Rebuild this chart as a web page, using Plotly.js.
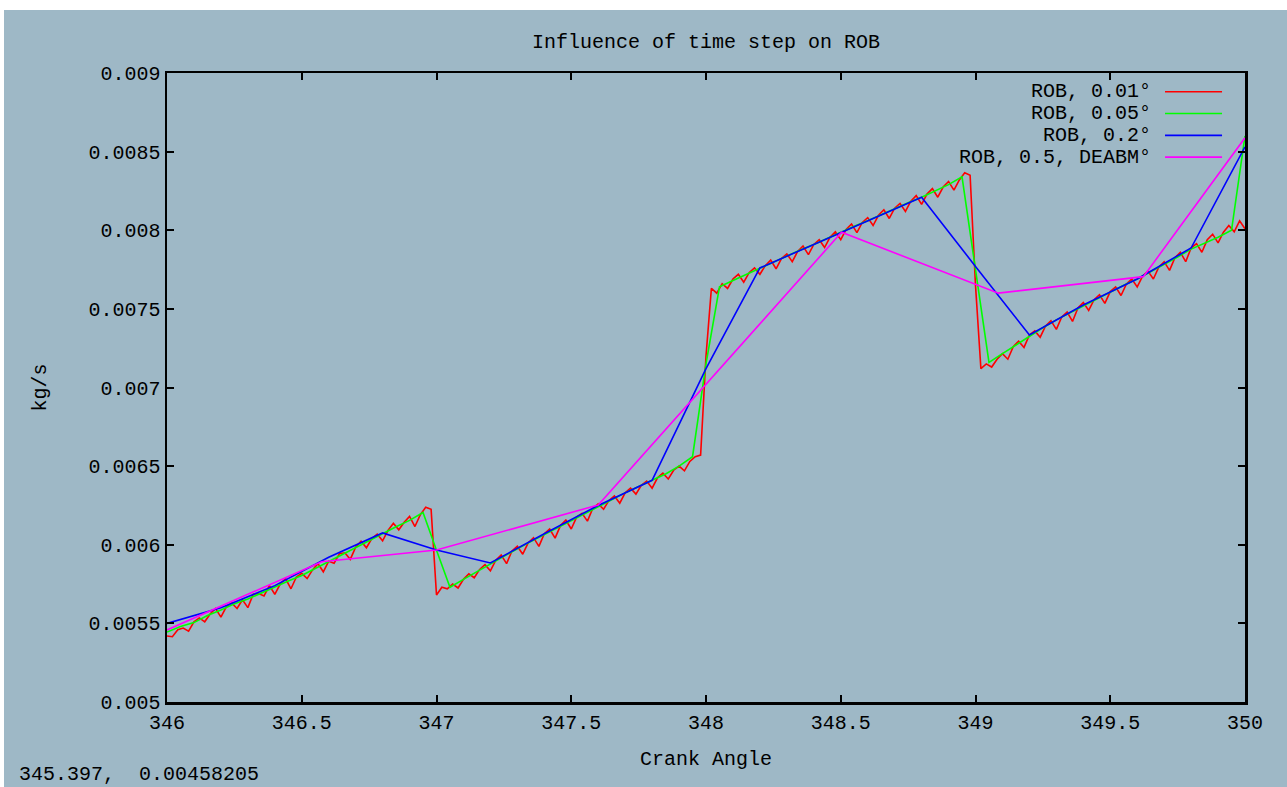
<!DOCTYPE html>
<html>
<head>
<meta charset="utf-8">
<script src="https://cdn.plot.ly/plotly-3.0.1.min.js"></script>
<style>
html, body { margin: 0; padding: 0; background: #ffffff; overflow: hidden; width: 1287px; height: 787px; }
#chart { position: absolute; left: 4px; top: 10px; width: 1283px; height: 777px; }
</style>
</head>
<body>
<div id="chart"></div>
<script>
// ---- Data ----
const chartTitle = 'Influence of time step on ROB';
const xTitle = 'Crank Angle';
const yTitle = 'kg/s';
const statusText = '345.397,\u00a0\u00a00.00458205';

const seriesNames = ['ROB, 0.01°', 'ROB, 0.05°', 'ROB, 0.2°', 'ROB, 0.5, DEABM°'];
const seriesColors = ['#ff0000', '#00ff00', '#0000ff', '#ff00ff'];

const xTickVals = [346, 346.5, 347, 347.5, 348, 348.5, 349, 349.5, 350];
const xTickText = ['346', '346.5', '347', '347.5', '348', '348.5', '349', '349.5', '350'];
const yTickVals = [0.005, 0.0055, 0.006, 0.0065, 0.007, 0.0075, 0.008, 0.0085, 0.009];
const yTickText = ['0.005', '0.0055', '0.006', '0.0065', '0.007', '0.0075', '0.008', '0.0085', '0.009'];

// ROB, 0.01 deg (read every 0.02 deg from 346 to 350)
const redStart = 346, redStep = 0.02;
const redY = [
  0.005420, 0.005415, 0.005460, 0.005470, 0.005450, 0.005510, 0.005535, 0.005510, 0.005560, 0.005595,
  0.005540, 0.005605, 0.005630, 0.005595, 0.005650, 0.005600, 0.005685, 0.005690, 0.005675, 0.005740,
  0.005685, 0.005750, 0.005785, 0.005720, 0.005795, 0.005818, 0.005785, 0.005840, 0.005880, 0.005828,
  0.005895, 0.005883, 0.005943, 0.005949, 0.005907, 0.005985, 0.006023, 0.005981, 0.006039, 0.006067,
  0.006025, 0.006091, 0.006137, 0.006095, 0.006143, 0.006180, 0.006116, 0.006192, 0.006238, 0.006225,
  0.005680, 0.005730, 0.005720, 0.005750, 0.005725, 0.005780, 0.005815, 0.005790, 0.005843, 0.005873,
  0.005834, 0.005902, 0.005935, 0.005880, 0.005960, 0.005990, 0.005940, 0.006012, 0.006045, 0.005990,
  0.006070, 0.006100, 0.006042, 0.006122, 0.006157, 0.006100, 0.006176, 0.006200, 0.006150, 0.006232,
  0.006260, 0.006226, 0.006282, 0.006310, 0.006264, 0.006330, 0.006360, 0.006322, 0.006378, 0.006405,
  0.006360, 0.006426, 0.006455, 0.006418, 0.006474, 0.006500, 0.006470, 0.006530, 0.006560, 0.006570,
  0.007200, 0.007630, 0.007600, 0.007660, 0.007630, 0.007690, 0.007720, 0.007670, 0.007730, 0.007760,
  0.007720, 0.007775, 0.007810, 0.007755, 0.007820, 0.007850, 0.007800, 0.007865, 0.007900, 0.007845,
  0.007910, 0.007940, 0.007890, 0.007955, 0.007990, 0.007940, 0.008005, 0.008040, 0.007985, 0.008050,
  0.008080, 0.008030, 0.008095, 0.008130, 0.008075, 0.008140, 0.008170, 0.008120, 0.008185, 0.008220,
  0.008165, 0.008230, 0.008265, 0.008210, 0.008275, 0.008310, 0.008255, 0.008320, 0.008365, 0.008350,
  0.007650, 0.007120, 0.007150, 0.007130, 0.007180, 0.007215, 0.007180, 0.007260, 0.007295, 0.007255,
  0.007334, 0.007360, 0.007320, 0.007391, 0.007425, 0.007370, 0.007449, 0.007480, 0.007420, 0.007506,
  0.007540, 0.007490, 0.007558, 0.007590, 0.007535, 0.007610, 0.007640, 0.007585, 0.007658, 0.007690,
  0.007640, 0.007708, 0.007740, 0.007690, 0.007765, 0.007800, 0.007745, 0.007825, 0.007860, 0.007800,
  0.007887, 0.007915, 0.007860, 0.007940, 0.007975, 0.007920, 0.007988, 0.008030, 0.007990, 0.008060,
  0.008010
];

// ROB, 0.05 deg
const greenStart = 346, greenStep = 0.05;
const greenY = [
  0.005445, 0.005480, 0.005505, 0.005550, 0.005585, 0.005625, 0.005655, 0.005695, 0.005730, 0.005770,
  0.005805, 0.005850, 0.005890, 0.005940, 0.005980, 0.006030, 0.006070, 0.006115, 0.006155, 0.006205,
  0.005965, 0.005730, 0.005780, 0.005830, 0.005880, 0.005930, 0.005975, 0.006020, 0.006065, 0.006110,
  0.006155, 0.006200, 0.006245, 0.006290, 0.006330, 0.006370, 0.006410, 0.006450, 0.006500, 0.006560,
  0.007150, 0.007640, 0.007680, 0.007720, 0.007760, 0.007800, 0.007835, 0.007875, 0.007910, 0.007950,
  0.007990, 0.008025, 0.008060, 0.008100, 0.008140, 0.008175, 0.008210, 0.008250, 0.008290, 0.008340,
  0.007750, 0.007160, 0.007215, 0.007270, 0.007330, 0.007380, 0.007430, 0.007475, 0.007520, 0.007565,
  0.007610, 0.007650, 0.007690, 0.007735, 0.007780, 0.007830, 0.007880, 0.007915, 0.007955, 0.008000,
  0.008600
];

// ROB, 0.2 deg
const blueX = [346.0, 346.2, 346.4, 346.6, 346.8, 347.0, 347.2, 347.4, 347.6, 347.8, 348.0,
               348.2, 348.4, 348.6, 348.8, 349.0, 349.2, 349.4, 349.6, 349.8, 350.0];
const blueY = [0.005500, 0.005600, 0.005740, 0.005920, 0.006075, 0.005967, 0.005884, 0.006070, 0.006250, 0.006410, 0.007120,
               0.007760, 0.007910, 0.008060, 0.008210, 0.007770, 0.007334, 0.007525, 0.007690, 0.007887, 0.008530];

// ROB, 0.5, DEABM
const magentaX = [346.0, 346.574, 347.0, 347.6, 348.503, 349.085, 349.623, 350.0];
const magentaY = [0.005458, 0.005892, 0.005967, 0.006253, 0.007987, 0.007600, 0.007705, 0.008588];

// ---- Build ----
const redX = redY.map((_, i) => +(redStart + i * redStep).toFixed(2));
const greenX = greenY.map((_, i) => +(greenStart + i * greenStep).toFixed(2));

const xs = [redX, greenX, blueX, magentaX];
const ys = [redY, greenY, blueY, magentaY];

const traces = xs.map((x, k) => ({
  x: x, y: ys[k], type: 'scatter', mode: 'lines', name: seriesNames[k],
  line: { color: seriesColors[k], width: 1.6 }, showlegend: false, hoverinfo: 'skip'
}));

const FONT = 'Liberation Mono, DejaVu Sans Mono, monospace';
const bg = '#9eb8c6';

// plot area in div pixels: left 163, right 1241, top 63, bottom 692 (div is 1283 x 777)
const legTextX = 0.9147, legLine0 = 0.9258, legLine1 = 0.9787;
const legRows = [0.9703, 0.9356, 0.9009, 0.8662];
const annotations = seriesNames.map((n, k) => ({
  xref: 'paper', yref: 'paper', x: legTextX, y: legRows[k], xanchor: 'right', yanchor: 'middle',
  text: n, showarrow: false, font: { family: FONT, size: 20, color: '#000' }
}));
annotations.push({
  xref: 'paper', yref: 'paper', x: -0.1382, y: -0.1351, xanchor: 'left', yanchor: 'bottom',
  text: statusText, showarrow: false, borderpad: 0, font: { family: FONT, size: 20, color: '#000' }
});
const shapes = seriesColors.map((c, k) => ({
  type: 'line', xref: 'paper', yref: 'paper', x0: legLine0, x1: legLine1, y0: legRows[k], y1: legRows[k],
  line: { color: c, width: 1.6 }
}));

const axisCommon = {
  showgrid: false, zeroline: false, showline: true, linecolor: '#000', linewidth: 2.5,
  mirror: 'ticks', ticks: 'inside', ticklen: 7, tickwidth: 2, tickcolor: '#000',
  tickfont: { family: FONT, size: 20, color: '#000' }, tickmode: 'array'
};

const layout = {
  width: 1283, height: 777,
  paper_bgcolor: bg, plot_bgcolor: bg,
  margin: { l: 163, r: 42, t: 63, b: 85 },
  font: { family: FONT, size: 20, color: '#000' },
  title: { text: chartTitle, x: 0.5, xref: 'paper', xanchor: 'center', y: 1 - 31 / 777, yref: 'container', yanchor: 'middle',
           font: { family: FONT, size: 20, color: '#000' } },
  xaxis: Object.assign({}, axisCommon, {
    range: [346, 350], tickvals: xTickVals, ticktext: xTickText,
    title: { text: xTitle, standoff: 18, font: { family: FONT, size: 20, color: '#000' } }
  }),
  yaxis: Object.assign({}, axisCommon, {
    range: [0.005, 0.009], tickvals: yTickVals, ticktext: yTickText,
    title: { text: yTitle, standoff: 37, font: { family: FONT, size: 20, color: '#000' } }
  }),
  annotations: annotations,
  shapes: shapes,
  showlegend: false
};

Plotly.newPlot('chart', traces, layout, { displayModeBar: false, staticPlot: true });
</script>
</body>
</html>
